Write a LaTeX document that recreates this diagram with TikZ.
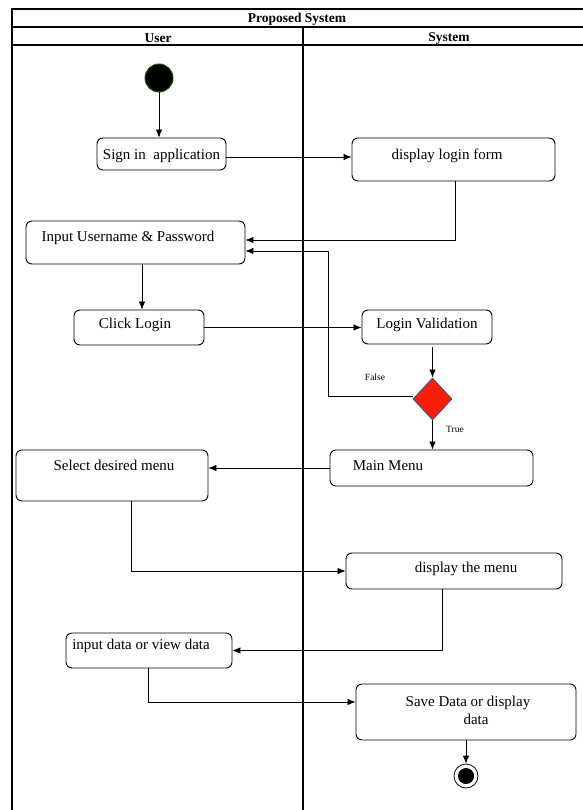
\documentclass[tikz,border=0pt]{standalone}
\usepackage{fontspec}
\setmainfont{Liberation Serif}
\usetikzlibrary{shapes.geometric,arrows.meta}
\definecolor{startedge}{RGB}{40,80,20}
\definecolor{decred}{RGB}{250,30,10}
\definecolor{decedge}{RGB}{70,80,130}
\begin{document}
\begin{tikzpicture}[x=1pt,y=-1pt,
  act/.style={draw, rounded corners=6pt, line width=0.9pt, inner sep=0pt},
  lbl/.style={font=\fontsize{15}{18}\selectfont, inner sep=0pt, yshift=-1.5pt},
  hdr/.style={font=\fontsize{13.5}{16}\selectfont\bfseries, inner sep=0pt, yshift=-1.5pt},
  small/.style={font=\fontsize{9.5}{11}\selectfont, inner sep=0pt},
  flow/.style={-{Latex[length=8pt,width=6.5pt]}, line width=0.8pt},
  lane/.style={line width=2pt}]
\useasboundingbox (0,0) rectangle (582,810);
% swimlane frame
\draw[lane] (12,811) -- (12,9) -- (583,9);
\draw[lane] (12,27) -- (583,27);
\draw[lane] (12,45) -- (583,45);
\draw[lane] (303,27) -- (303,811);
\node[hdr] (title) at (297,18) {Proposed System};
\node[hdr] (user) at (158,37) {User};
\node[hdr] (sys) at (449,37) {System};

% start / end
\node[circle, fill=black, draw=startedge, line width=1pt, minimum size=28pt, inner sep=0pt] (start) at (159,78) {};
\node[circle, draw, line width=0.8pt, minimum size=24pt, inner sep=0pt] (end) at (466,776) {};
\fill (end.center) circle[radius=8pt];

% activity boxes
\node[act, minimum width=129pt, minimum height=32pt] (sign) at (161.5,154) {};
\node[lbl] at (161.5,154) {Sign in\ \ application};
\node[act, minimum width=203pt, minimum height=43pt] (disp) at (453.5,159.5) {};
\node[lbl] at (447,154) {display login form};
\node[act, minimum width=219pt, minimum height=43pt] (input) at (135.5,242.5) {};
\node[lbl] at (128,236) {Input Username \& Password};
\node[act, minimum width=130pt, minimum height=35pt] (click) at (139,327.5) {};
\node[lbl] at (135,323) {Click Login};
\node[act, minimum width=130pt, minimum height=34pt] (lv) at (427,327) {};
\node[lbl] at (427,323) {Login Validation};
\node[diamond, draw=decedge, fill=decred, line width=0.9pt, minimum width=39pt, minimum height=42pt, inner sep=0pt] (dec) at (432.5,399) {};
\node[act, minimum width=203pt, minimum height=36pt] (mm) at (431.5,468) {};
\node[lbl] at (388,464) {Main Menu};
\node[act, minimum width=192pt, minimum height=51pt] (sel) at (112,475.5) {};
\node[lbl] at (114,464) {Select desired menu};
\node[act, minimum width=216pt, minimum height=36pt] (dmenu) at (454,571) {};
\node[lbl] at (466,567) {display the menu};
\node[act, minimum width=166pt, minimum height=35pt] (inp) at (149,650.5) {};
\node[lbl] at (141,644) {input data or view data};
\node[act, minimum width=220pt, minimum height=56pt] (save) at (466,712) {};
\node[lbl, align=center] at (468,709) {Save Data or display\\\hspace*{16pt}data};

% guard labels
\node[small] at (375,377) {False};
\node[small] at (455,429) {True};

% connectors
\draw[flow] (start.south) -- (start.south |- sign.north);
\draw[flow] ([yshift=-3pt]sign.east) -- ([yshift=-3pt]sign.east -| disp.west);
\draw[flow] ([xshift=1.5pt]disp.south) |- ([yshift=2.5pt]input.east);
\coordinate (fx) at (328,396);
\draw[flow] ([yshift=3pt]dec.west) -- ([yshift=3pt]dec.west -| fx) |- ([yshift=-8.5pt]input.east);
\draw[flow] ([xshift=6.5pt]input.south) -- ([xshift=3pt]click.north);
\draw[flow] (click.east) -- (click.east -| lv.west);
\draw[flow] ([yshift=-3pt]lv.south -| dec.north) -- (dec.north);
\draw[flow] (dec.south) -- (dec.south |- mm.north);
\draw[flow] (mm.west) -- (mm.west -| sel.east);
\draw[flow] ([xshift=19pt]sel.south) |- (dmenu.west);
\draw[flow] ([xshift=-12pt]dmenu.south) |- (inp.east);
\draw[flow] ([xshift=-1pt]inp.south) |- ([yshift=10pt]save.west);
\draw[flow] (save.south) -- (end.north);
\end{tikzpicture}
\end{document}
